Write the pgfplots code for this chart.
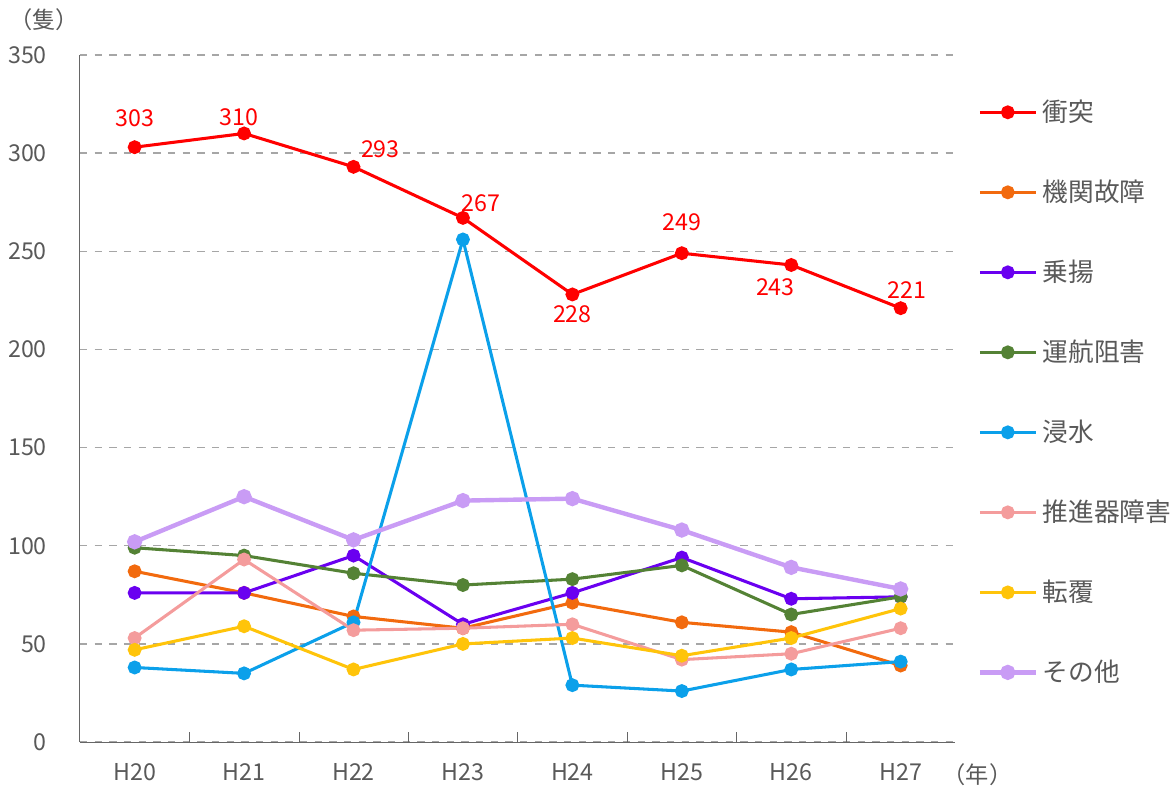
\documentclass[border=0pt]{standalone}
\usepackage{fontspec}
\setmainfont{Noto Sans CJK JP}
\usepackage{pgfplots}
\usepackage{pgfplotstable}
\pgfplotsset{compat=1.18}

\definecolor{cRed}{HTML}{FF0000}
\definecolor{cOrange}{HTML}{F26A0E}
\definecolor{cPurple}{HTML}{6A00F0}
\definecolor{cGreen}{HTML}{548235}
\definecolor{cBlue}{HTML}{0BA0EA}
\definecolor{cPink}{HTML}{F49C9C}
\definecolor{cYellow}{HTML}{FFC40A}
\definecolor{cLav}{HTML}{C99CF5}
\definecolor{cText}{HTML}{595959}

% accidents by type, H20--H27; dx/dy place the labels of the red series
\pgfplotstableread{
x collision engine grounding obstruct flooding propeller capsize other dx dy
0 303 87 76 99 38 53 47 102 0 12
1 310 76 76 95 35 93 59 125 -2 6.5
2 293 64 95 86 61 57 37 103 11 7.3
3 267 58 60 80 256 58 50 123 7.5 6
4 228 71 76 83 29 60 53 124 0 -8
5 249 61 94 90 26 42 44 108 0 12.5
6 243 56 73 65 37 45 53 89 -6.5 -9
7 221 39 74 74 41 58 68 78 2.7 7.5
}\datatable

\begin{document}
\begin{tikzpicture}
\begin{axis}[
    scale only axis,
    width=358pt, height=281pt,
    xmin=-0.5, xmax=7.5,
    ymin=0, ymax=350,
    axis x line=bottom, axis y line=left,
    axis line style={draw=gray!80!black, -},
    xtick={0,...,7},
    xticklabels={H20,H21,H22,H23,H24,H25,H26,H27},
    minor xtick={0.5,1.5,...,6.5},
    major tick length=0pt,
    minor tick length=4pt,
    tick align=inside,
    tick style={gray!80!black},
    ytick={0,50,...,350},
    ymajorgrids,
    grid style={gray!70, dashed, line width=0.6pt},
    /pgf/number format/assume math mode=true,
    tick label style={font=\fontsize{9.5}{11}\selectfont, text=cText},
    yticklabel style={xshift=-10pt},
    xticklabel style={yshift=-5pt},
    every axis plot/.append style={mark=*, line width=1.25pt, mark size=2.2pt},
    clip=false,
    legend style={at={(1.025,0.509)}, anchor=west, draw=none, fill=none,
        font=\fontsize{10.5}{12}\selectfont, text=cText, row sep=18.4pt,
        inner sep=0pt},
    legend cell align=left,
    legend image code/.code={\draw[mark repeat=2, mark phase=2, #1]
        plot coordinates {(0cm,0cm) (0.4cm,0cm) (0.8cm,0cm)};},
]
\addplot[cRed, mark options={fill=cRed},
    nodes near coords, point meta=explicit,
    visualization depends on={\thisrow{dx}\as\dx},
    visualization depends on={\thisrow{dy}\as\dy},
    nodes near coords style={anchor=center, xshift=\dx*1pt, yshift=\dy*1pt,
        font=\fontsize{9.5}{11}\selectfont, text=cRed}]
    table[x=x, y=collision, meta=collision] {\datatable};
\addlegendentry{衝突}
\addplot[cOrange, mark options={fill=cOrange}] table[x=x, y=engine] {\datatable};
\addlegendentry{機関故障}
\addplot[cPurple, mark options={fill=cPurple}] table[x=x, y=grounding] {\datatable};
\addlegendentry{乗揚}
\addplot[cGreen, mark options={fill=cGreen}] table[x=x, y=obstruct] {\datatable};
\addlegendentry{運航阻害}
\addplot[cBlue, mark options={fill=cBlue}] table[x=x, y=flooding] {\datatable};
\addlegendentry{浸水}
\addplot[cPink, mark options={fill=cPink}] table[x=x, y=propeller] {\datatable};
\addlegendentry{推進器障害}
\addplot[cYellow, mark options={fill=cYellow}] table[x=x, y=capsize] {\datatable};
\addlegendentry{転覆}
\addplot[cLav, mark options={fill=cLav}, line width=1.8pt] table[x=x, y=other] {\datatable};
\addlegendentry{その他}

\node[font=\fontsize{9.5}{11}\selectfont, text=cText] at ([xshift=-14.6pt, yshift=14.6pt]rel axis cs:0,1) {（隻）};
\node[font=\fontsize{9.5}{11}\selectfont, text=cText] at ([xshift=9pt, yshift=-13.5pt]rel axis cs:1,0) {（年）};
\end{axis}
\end{tikzpicture}
\end{document}
